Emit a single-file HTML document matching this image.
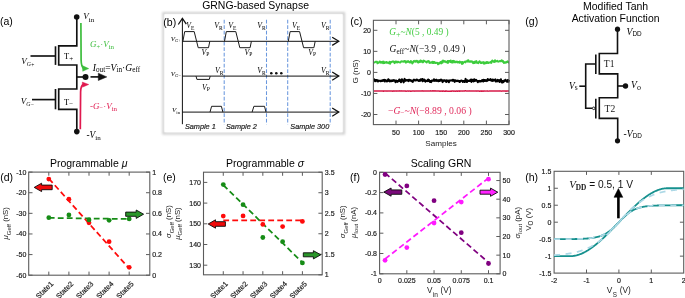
<!DOCTYPE html>
<html><head><meta charset="utf-8"><style>
html,body{margin:0;padding:0;background:#fff;}
svg{display:block;will-change:transform;}
</style></head><body>
<svg width="685" height="298" viewBox="0 0 685 298">
<rect width="685" height="298" fill="#fff"/>
<text x="0.00" y="25.00" font-family="'Liberation Sans', sans-serif" font-size="10.5" text-anchor="start" fill="#000" style="" >(a)</text>
<path d="M76.8,17 V45.8 H58.7 V65 H76.8 V89 H58.7 V109.3 H76.8 V131.6" stroke="#111" stroke-width="1.65" fill="none" />
<path d="M76.8,77 H85.5" stroke="#111" stroke-width="1.65" fill="none" />
<circle cx="76.70" cy="17.00" r="2.8" fill="#111"/>
<circle cx="76.80" cy="131.60" r="2.8" fill="#111"/>
<circle cx="85.50" cy="76.90" r="3" fill="#111"/>
<line x1="55.50" y1="46.30" x2="55.50" y2="64.90" stroke="#111" stroke-width="1.65" />
<line x1="55.50" y1="89.00" x2="55.50" y2="109.30" stroke="#111" stroke-width="1.65" />
<line x1="30.50" y1="56.00" x2="55.50" y2="56.00" stroke="#111" stroke-width="1.65" />
<line x1="32.00" y1="99.60" x2="55.50" y2="99.60" stroke="#111" stroke-width="1.65" />
<line x1="90.50" y1="76.90" x2="99.50" y2="76.90" stroke="#111" stroke-width="1.65" />
<path d="M98.3,73.2 L106.8,76.9 L98.3,80.5 Z" stroke="#111" stroke-width="0.5" fill="#111" />
<path d="M80.9,23 L81.1,60 Q81.3,66.5 83.5,68.3" stroke="#3dbd3d" stroke-width="1.7" fill="none" />
<path d="M82.3,65.5 L88.8,68.6 L82.7,71.3 Z" stroke="#3dbd3d" stroke-width="0.4" fill="#3dbd3d" />
<path d="M80.3,129.3 L80.6,92 Q80.8,86 83.2,84.6" stroke="#e0194f" stroke-width="1.7" fill="none" />
<path d="M82.3,82 L88.8,84.5 L82.4,87.2 Z" stroke="#e0194f" stroke-width="0.4" fill="#e0194f" />
<text x="83.20" y="19.40" font-family="'Liberation Serif', serif" font-size="9" text-anchor="start" fill="#000" style="" ><tspan font-style="italic">V</tspan><tspan font-size="7" dy="2.1">in</tspan></text>
<text x="64.00" y="59.40" font-family="'Liberation Serif', serif" font-size="8.5" text-anchor="start" fill="#000" style="" >T<tspan font-size="7" dy="1.8">+</tspan></text>
<text x="64.00" y="104.80" font-family="'Liberation Serif', serif" font-size="8.5" text-anchor="start" fill="#000" style="" >T<tspan font-size="7" dy="1">−</tspan></text>
<text x="21.20" y="63.80" font-family="'Liberation Serif', serif" font-size="9" text-anchor="start" fill="#000" style="" ><tspan font-style="italic">V</tspan><tspan font-size="5.8" dy="2.1" font-style="italic">G</tspan><tspan font-size="5.5" dy="0.9" dx="0.3">+</tspan></text>
<text x="20.80" y="103.60" font-family="'Liberation Serif', serif" font-size="9" text-anchor="start" fill="#000" style="" ><tspan font-style="italic">V</tspan><tspan font-size="5.8" dy="2.1" font-style="italic">G</tspan><tspan font-size="5.5" dy="0.6" dx="0.3">−</tspan></text>
<text x="90.00" y="47.30" font-family="'Liberation Serif', serif" font-size="9" text-anchor="start" fill="#3dbd3d" style="" ><tspan font-style="italic">G</tspan><tspan font-size="6.5" dy="1.5">+</tspan><tspan dy="-1.5">·</tspan><tspan font-style="italic">V</tspan><tspan font-size="7" dy="1.8">in</tspan></text>
<text x="92.80" y="70.60" font-family="'Liberation Serif', serif" font-size="9.6" text-anchor="start" fill="#000" style="" ><tspan font-style="italic">I</tspan><tspan font-size="7.2" dy="1.8">out</tspan><tspan dy="-1.8">=</tspan><tspan font-style="italic">V</tspan><tspan font-size="7.2" dy="1.8">in</tspan><tspan dy="-1.8">·</tspan><tspan font-style="italic">G</tspan><tspan font-size="7.2" dy="1.8">eff</tspan></text>
<text x="90.00" y="108.80" font-family="'Liberation Serif', serif" font-size="9" text-anchor="start" fill="#e0194f" style="" >-<tspan font-style="italic">G</tspan><tspan font-size="6.5" dy="1">−</tspan><tspan dy="-1">·</tspan><tspan font-style="italic">V</tspan><tspan font-size="7" dy="1.8">in</tspan></text>
<text x="86.50" y="137.60" font-family="'Liberation Serif', serif" font-size="9.3" text-anchor="start" fill="#000" style="" >-<tspan font-style="italic">V</tspan><tspan font-size="7" dy="1.9">in</tspan></text>
<defs><filter id="bl" x="-5%" y="-5%" width="110%" height="110%"><feGaussianBlur stdDeviation="0.8"/></filter></defs>
<rect x="163.4" y="13.2" width="180.6" height="120.3" fill="none" stroke="#cdcdcd" stroke-width="2.2" filter="url(#bl)"/>
<rect x="164.4" y="14.2" width="178.2" height="118" fill="#fff"/>
<text x="163.30" y="25.50" font-family="'Liberation Sans', sans-serif" font-size="10.5" text-anchor="start" fill="#000" style="" >(b)</text>
<text x="202.20" y="9.10" font-family="'Liberation Sans', sans-serif" font-size="10.45" text-anchor="start" fill="#000" style="" >GRNG-based Synapse</text>
<line x1="224.20" y1="19.80" x2="224.20" y2="124.50" stroke="#6b98de" stroke-width="1.05" stroke-dasharray="3.6,1.9"/>
<line x1="266.50" y1="19.80" x2="266.50" y2="124.50" stroke="#6b98de" stroke-width="1.05" stroke-dasharray="3.6,1.9"/>
<line x1="287.70" y1="19.80" x2="287.70" y2="124.50" stroke="#6b98de" stroke-width="1.05" stroke-dasharray="3.6,1.9"/>
<line x1="330.20" y1="19.80" x2="330.20" y2="124.50" stroke="#6b98de" stroke-width="1.05" stroke-dasharray="3.6,1.9"/>
<line x1="182.40" y1="18.50" x2="182.40" y2="124.20" stroke="#111111" stroke-width="1.0" />
<path d="M178.3,24.5 L182.4,18.3 L186.3,24.2" stroke="#111111" stroke-width="1.25" fill="none" />
<line x1="182.40" y1="41.30" x2="338.50" y2="41.30" stroke="#111111" stroke-width="1.0" />
<path d="M332.2,37.199999999999996 L338.8,41.3 L332.2,45.4" stroke="#111111" stroke-width="1.25" fill="none" />
<line x1="182.40" y1="76.10" x2="338.50" y2="76.10" stroke="#111111" stroke-width="1.0" />
<path d="M332.2,72.0 L338.8,76.1 L332.2,80.19999999999999" stroke="#111111" stroke-width="1.25" fill="none" />
<line x1="182.40" y1="112.10" x2="338.50" y2="112.10" stroke="#111111" stroke-width="1.0" />
<path d="M332.2,108.0 L338.8,112.1 L332.2,116.19999999999999" stroke="#111111" stroke-width="1.25" fill="none" />
<path d="M182.9,41.3 L184.70000000000002,31.6 H194.20000000000002 L198.20000000000002,47.7 H208.5 L209.8,41.3" stroke="#1a1a1a" stroke-width="1.0" fill="none" />
<path d="M224.5,41.3 L226.3,31.6 H235.8 L239.8,47.7 H250.1 L251.4,41.3" stroke="#1a1a1a" stroke-width="1.0" fill="none" />
<path d="M288.3,41.3 L290.1,31.6 H299.6 L303.6,47.7 H313.90000000000003 L315.2,41.3" stroke="#1a1a1a" stroke-width="1.0" fill="none" />
<path d="M196,76.1 L196.9,79.4 H209.3 L210.2,76.1" stroke="#1a1a1a" stroke-width="1.0" fill="none" />
<path d="M210,112.1 L211.6,106.3 H221.4 L222.9,112.1" stroke="#1a1a1a" stroke-width="1.0" fill="none" />
<path d="M252.1,112.1 L253.9,106.3 H264.5 L266,112.1" stroke="#1a1a1a" stroke-width="1.0" fill="none" />
<text x="186.20" y="28.20" font-family="'Liberation Serif', serif" font-size="7.8" text-anchor="start" fill="#000" style="" ><tspan font-style="italic">V</tspan><tspan font-size="5.6" dy="1.6">E</tspan></text>
<text x="228.20" y="28.20" font-family="'Liberation Serif', serif" font-size="7.8" text-anchor="start" fill="#000" style="" ><tspan font-style="italic">V</tspan><tspan font-size="5.6" dy="1.6">E</tspan></text>
<text x="292.00" y="28.20" font-family="'Liberation Serif', serif" font-size="7.8" text-anchor="start" fill="#000" style="" ><tspan font-style="italic">V</tspan><tspan font-size="5.6" dy="1.6">E</tspan></text>
<text x="201.50" y="54.80" font-family="'Liberation Serif', serif" font-size="7.8" text-anchor="start" fill="#000" style="" ><tspan font-style="italic">V</tspan><tspan font-size="5.6" dy="1.6">P</tspan></text>
<text x="244.50" y="54.80" font-family="'Liberation Serif', serif" font-size="7.8" text-anchor="start" fill="#000" style="" ><tspan font-style="italic">V</tspan><tspan font-size="5.6" dy="1.6">P</tspan></text>
<text x="308.30" y="54.80" font-family="'Liberation Serif', serif" font-size="7.8" text-anchor="start" fill="#000" style="" ><tspan font-style="italic">V</tspan><tspan font-size="5.6" dy="1.6">P</tspan></text>
<text x="214.20" y="28.20" font-family="'Liberation Serif', serif" font-size="7.8" text-anchor="start" fill="#000" style="" ><tspan font-style="italic">V</tspan><tspan font-size="5.6" dy="1.6">R</tspan></text>
<text x="257.30" y="28.20" font-family="'Liberation Serif', serif" font-size="7.8" text-anchor="start" fill="#000" style="" ><tspan font-style="italic">V</tspan><tspan font-size="5.6" dy="1.6">R</tspan></text>
<text x="321.10" y="28.20" font-family="'Liberation Serif', serif" font-size="7.8" text-anchor="start" fill="#000" style="" ><tspan font-style="italic">V</tspan><tspan font-size="5.6" dy="1.6">R</tspan></text>
<text x="214.90" y="73.20" font-family="'Liberation Serif', serif" font-size="7.8" text-anchor="start" fill="#000" style="" ><tspan font-style="italic">V</tspan><tspan font-size="5.6" dy="1.6">R</tspan></text>
<text x="257.30" y="73.20" font-family="'Liberation Serif', serif" font-size="7.8" text-anchor="start" fill="#000" style="" ><tspan font-style="italic">V</tspan><tspan font-size="5.6" dy="1.6">R</tspan></text>
<text x="321.10" y="73.20" font-family="'Liberation Serif', serif" font-size="7.8" text-anchor="start" fill="#000" style="" ><tspan font-style="italic">V</tspan><tspan font-size="5.6" dy="1.6">R</tspan></text>
<text x="202.10" y="89.60" font-family="'Liberation Serif', serif" font-size="7.8" text-anchor="start" fill="#000" style="" ><tspan font-style="italic">V</tspan><tspan font-size="5.6" dy="1.6">P</tspan></text>
<text x="181.00" y="40.80" font-family="'Liberation Serif', serif" font-size="7" text-anchor="end" fill="#000" style="" ><tspan font-style="italic">V</tspan><tspan font-size="4.6" dy="1" font-style="italic">G</tspan><tspan font-size="4.6" dy="0.6">+</tspan></text>
<text x="181.00" y="75.80" font-family="'Liberation Serif', serif" font-size="7" text-anchor="end" fill="#000" style="" ><tspan font-style="italic">V</tspan><tspan font-size="4.6" dy="1" font-style="italic">G</tspan><tspan font-size="4.6" dy="0">−</tspan></text>
<text x="180.20" y="112.30" font-family="'Liberation Serif', serif" font-size="7" text-anchor="end" fill="#000" style="" ><tspan font-style="italic">V</tspan><tspan font-size="5" dy="1.3">in</tspan></text>
<circle cx="271.30" cy="73.30" r="1.3" fill="#111111"/>
<circle cx="276.30" cy="73.30" r="1.3" fill="#111111"/>
<circle cx="281.30" cy="73.30" r="1.3" fill="#111111"/>
<text x="184.90" y="128.70" font-family="'Liberation Sans', sans-serif" font-size="7.3" text-anchor="start" fill="#222" style="font-style:italic;stroke:#222;stroke-width:0.18px;" >Sample 1</text>
<text x="226.00" y="128.70" font-family="'Liberation Sans', sans-serif" font-size="7.3" text-anchor="start" fill="#222" style="font-style:italic;stroke:#222;stroke-width:0.18px;" >Sample 2</text>
<text x="290.30" y="128.70" font-family="'Liberation Sans', sans-serif" font-size="7.3" text-anchor="start" fill="#222" style="font-style:italic;stroke:#222;stroke-width:0.18px;" >Sample 300</text>
<text x="350.30" y="25.10" font-family="'Liberation Sans', sans-serif" font-size="10.5" text-anchor="start" fill="#000" style="" >(c)</text>
<polyline points="373.85,61.84 374.30,62.35 374.76,62.46 375.21,61.86 375.66,61.77 376.11,61.75 376.56,61.70 377.02,61.80 377.47,63.39 377.92,62.80 378.37,62.46 378.82,62.66 379.28,62.00 379.73,61.35 380.18,61.52 380.63,62.72 381.08,62.41 381.54,62.06 381.99,62.82 382.44,61.66 382.89,62.34 383.34,63.20 383.80,61.58 384.25,62.85 384.70,63.10 385.15,62.52 385.60,62.25 386.06,61.99 386.51,62.01 386.96,62.92 387.41,62.41 387.86,62.86 388.32,62.62 388.77,63.21 389.22,62.19 389.67,61.71 390.12,63.82 390.58,62.72 391.03,61.93 391.48,62.15 391.93,61.93 392.38,61.52 392.84,61.49 393.29,61.39 393.74,61.64 394.19,62.68 394.64,63.17 395.10,61.59 395.55,61.49 396.00,62.35 396.45,61.82 396.90,61.51 397.36,62.51 397.81,62.05 398.26,61.69 398.71,62.19 399.16,62.29 399.62,62.40 400.07,62.53 400.52,62.45 400.97,61.55 401.42,61.23 401.88,61.61 402.33,61.38 402.78,61.62 403.23,61.70 403.68,61.28 404.14,61.09 404.59,61.64 405.04,60.98 405.49,61.40 405.94,62.78 406.40,61.47 406.85,61.45 407.30,61.34 407.75,62.00 408.20,61.09 408.66,61.53 409.11,61.61 409.56,62.41 410.01,62.60 410.46,61.43 410.92,60.97 411.37,62.36 411.82,61.86 412.27,63.52 412.72,62.63 413.18,62.56 413.63,61.04 414.08,61.67 414.53,61.58 414.98,60.85 415.44,61.73 415.89,61.76 416.34,61.18 416.79,60.71 417.24,60.81 417.70,62.40 418.15,62.03 418.60,62.57 419.05,61.11 419.50,61.85 419.96,62.04 420.41,60.42 420.86,60.68 421.31,61.53 421.76,61.06 422.22,62.24 422.67,61.61 423.12,62.17 423.57,60.59 424.02,61.33 424.48,60.87 424.93,61.42 425.38,61.44 425.83,62.01 426.28,61.70 426.74,62.45 427.19,61.63 427.64,61.33 428.09,61.51 428.54,60.90 429.00,61.47 429.45,62.94 429.90,62.06 430.35,62.85 430.80,62.82 431.26,62.71 431.71,62.41 432.16,61.73 432.61,63.03 433.06,61.78 433.52,63.01 433.97,61.97 434.42,61.93 434.87,63.00 435.32,62.96 435.78,62.69 436.23,62.95 436.68,62.82 437.13,62.70 437.58,63.07 438.04,64.36 438.49,63.17 438.94,63.83 439.39,63.41 439.84,62.48 440.30,62.51 440.75,62.01 441.20,63.46 441.65,61.35 442.10,62.41 442.56,62.77 443.01,60.35 443.46,61.54 443.91,61.66 444.36,61.03 444.82,61.81 445.27,61.27 445.72,61.89 446.17,62.20 446.62,61.79 447.08,62.50 447.53,60.89 447.98,62.94 448.43,61.15 448.88,60.93 449.34,60.98 449.79,61.13 450.24,62.09 450.69,60.46 451.14,62.19 451.60,61.68 452.05,62.44 452.50,60.92 452.95,62.55 453.40,60.94 453.86,60.77 454.31,61.32 454.76,62.36 455.21,61.66 455.66,62.18 456.12,61.81 456.57,61.79 457.02,61.54 457.47,62.46 457.92,62.11 458.38,62.04 458.83,62.03 459.28,62.86 459.73,61.47 460.18,62.09 460.64,62.46 461.09,62.25 461.54,62.01 461.99,64.09 462.44,61.85 462.90,63.52 463.35,62.53 463.80,62.56 464.25,61.92 464.70,61.97 465.16,61.42 465.61,62.41 466.06,61.44 466.51,61.32 466.96,61.32 467.42,60.46 467.87,61.81 468.32,60.24 468.77,61.32 469.22,61.65 469.68,61.81 470.13,61.23 470.58,61.73 471.03,61.31 471.48,61.60 471.94,61.33 472.39,62.31 472.84,62.79 473.29,63.20 473.74,61.86 474.20,62.10 474.65,62.92 475.10,61.48 475.55,62.10 476.00,62.72 476.46,61.05 476.91,62.01 477.36,62.88 477.81,62.84 478.26,63.13 478.72,62.16 479.17,61.77 479.62,61.22 480.07,62.43 480.52,62.95 480.98,62.32 481.43,63.11 481.88,62.44 482.33,62.61 482.78,62.84 483.24,62.04 483.69,62.63 484.14,63.81 484.59,62.41 485.04,62.56 485.50,63.37 485.95,62.76 486.40,62.10 486.85,62.90 487.30,62.45 487.76,62.08 488.21,63.13 488.66,62.82 489.11,62.64 489.56,62.56 490.02,62.70 490.47,62.18 490.92,61.73 491.37,62.97 491.82,61.67 492.28,60.40 492.73,60.98 493.18,61.06 493.63,61.64 494.08,62.12 494.54,61.93 494.99,60.17 495.44,61.48 495.89,61.32 496.34,61.41 496.80,61.10 497.25,60.71 497.70,61.42 498.15,61.69 498.60,61.65 499.06,61.48 499.51,61.02 499.96,61.25 500.41,60.99 500.86,61.35 501.32,60.66 501.77,60.18 502.22,61.09 502.67,61.74 503.12,61.06 503.58,62.51 504.03,63.05 504.48,62.16 504.93,62.11 505.38,62.59 505.84,62.79 506.29,61.83 506.74,62.05 507.19,62.02 507.64,61.31 508.10,62.11 508.55,62.53 509.00,62.50" fill="none" stroke="#3ccc3c" stroke-width="1.9" stroke-linejoin="round"/>
<polyline points="373.85,80.37 374.30,79.37 374.76,80.70 375.21,81.25 375.66,80.24 376.11,80.12 376.56,80.22 377.02,80.01 377.47,81.33 377.92,81.40 378.37,80.64 378.82,80.73 379.28,80.74 379.73,80.86 380.18,81.07 380.63,81.24 381.08,80.51 381.54,80.71 381.99,81.01 382.44,80.75 382.89,80.21 383.34,80.64 383.80,80.31 384.25,79.85 384.70,81.50 385.15,80.47 385.60,80.13 386.06,80.78 386.51,80.71 386.96,81.38 387.41,80.66 387.86,80.27 388.32,79.23 388.77,80.99 389.22,80.21 389.67,81.39 390.12,80.53 390.58,81.04 391.03,80.74 391.48,81.04 391.93,80.43 392.38,80.95 392.84,81.01 393.29,80.16 393.74,80.53 394.19,80.26 394.64,80.67 395.10,80.60 395.55,82.13 396.00,80.83 396.45,80.55 396.90,81.41 397.36,81.83 397.81,81.06 398.26,80.95 398.71,81.16 399.16,79.78 399.62,79.51 400.07,80.94 400.52,80.32 400.97,82.30 401.42,80.51 401.88,79.32 402.33,80.62 402.78,80.38 403.23,81.00 403.68,82.36 404.14,80.50 404.59,78.94 405.04,80.36 405.49,80.83 405.94,80.15 406.40,80.49 406.85,80.06 407.30,80.58 407.75,80.48 408.20,79.82 408.66,81.11 409.11,80.18 409.56,79.79 410.01,80.14 410.46,80.70 410.92,80.36 411.37,81.05 411.82,80.76 412.27,80.88 412.72,81.89 413.18,80.38 413.63,80.72 414.08,79.65 414.53,80.21 414.98,80.30 415.44,80.54 415.89,80.20 416.34,79.55 416.79,80.18 417.24,79.72 417.70,79.98 418.15,80.36 418.60,81.04 419.05,80.95 419.50,80.58 419.96,79.90 420.41,80.63 420.86,79.44 421.31,80.16 421.76,80.02 422.22,79.05 422.67,81.21 423.12,79.92 423.57,79.65 424.02,80.75 424.48,79.60 424.93,81.02 425.38,81.57 425.83,80.79 426.28,80.88 426.74,80.89 427.19,81.06 427.64,80.26 428.09,79.50 428.54,80.87 429.00,80.03 429.45,81.22 429.90,81.82 430.35,80.95 430.80,81.09 431.26,82.04 431.71,80.68 432.16,80.45 432.61,80.59 433.06,80.56 433.52,80.69 433.97,79.32 434.42,80.35 434.87,80.96 435.32,79.97 435.78,80.14 436.23,79.71 436.68,80.88 437.13,80.39 437.58,80.83 438.04,80.22 438.49,81.21 438.94,80.36 439.39,80.23 439.84,80.92 440.30,79.83 440.75,80.47 441.20,79.57 441.65,80.28 442.10,80.59 442.56,82.05 443.01,80.42 443.46,81.10 443.91,80.27 444.36,80.18 444.82,80.33 445.27,80.99 445.72,80.73 446.17,82.01 446.62,80.38 447.08,80.45 447.53,80.46 447.98,81.40 448.43,80.60 448.88,82.21 449.34,80.50 449.79,80.84 450.24,80.38 450.69,80.52 451.14,80.55 451.60,80.41 452.05,80.53 452.50,79.88 452.95,80.78 453.40,79.89 453.86,80.72 454.31,80.26 454.76,81.84 455.21,80.23 455.66,80.60 456.12,80.66 456.57,81.06 457.02,81.11 457.47,80.61 457.92,80.81 458.38,81.13 458.83,80.90 459.28,81.09 459.73,82.03 460.18,81.04 460.64,81.13 461.09,80.56 461.54,80.46 461.99,80.85 462.44,81.06 462.90,81.88 463.35,80.95 463.80,81.11 464.25,81.06 464.70,82.03 465.16,81.64 465.61,78.93 466.06,80.86 466.51,80.98 466.96,81.97 467.42,80.33 467.87,80.89 468.32,80.73 468.77,80.73 469.22,80.90 469.68,80.40 470.13,81.00 470.58,80.76 471.03,79.47 471.48,81.87 471.94,79.74 472.39,79.99 472.84,81.00 473.29,80.96 473.74,81.37 474.20,79.24 474.65,80.91 475.10,80.90 475.55,80.30 476.00,79.76 476.46,80.51 476.91,80.82 477.36,80.98 477.81,82.20 478.26,81.59 478.72,81.09 479.17,80.91 479.62,81.50 480.07,81.55 480.52,80.99 480.98,81.35 481.43,81.02 481.88,80.53 482.33,80.06 482.78,81.10 483.24,81.48 483.69,79.71 484.14,80.39 484.59,80.03 485.04,81.01 485.50,80.19 485.95,80.15 486.40,80.62 486.85,81.06 487.30,80.66 487.76,79.12 488.21,79.97 488.66,80.10 489.11,79.71 489.56,79.84 490.02,80.00 490.47,79.15 490.92,80.27 491.37,80.56 491.82,79.90 492.28,79.65 492.73,80.90 493.18,79.69 493.63,80.47 494.08,80.56 494.54,79.73 494.99,79.91 495.44,79.48 495.89,81.48 496.34,80.95 496.80,80.92 497.25,81.34 497.70,79.89 498.15,80.66 498.60,80.63 499.06,80.17 499.51,81.98 499.96,81.13 500.41,80.86 500.86,79.27 501.32,81.36 501.77,82.34 502.22,81.10 502.67,82.43 503.12,81.23 503.58,81.84 504.03,80.71 504.48,80.46 504.93,80.88 505.38,79.81 505.84,80.43 506.29,80.61 506.74,81.49 507.19,81.71 507.64,80.29 508.10,80.04 508.55,81.74 509.00,79.86" fill="none" stroke="#000" stroke-width="2.1" stroke-linejoin="round"/>
<polyline points="373.85,91.07 374.30,90.95 374.76,90.96 375.21,91.06 375.66,91.09 376.11,91.05 376.56,90.98 377.02,91.05 377.47,90.95 377.92,90.99 378.37,90.90 378.82,90.98 379.28,91.02 379.73,91.06 380.18,90.95 380.63,90.96 381.08,90.94 381.54,91.06 381.99,91.06 382.44,91.07 382.89,91.02 383.34,91.20 383.80,90.99 384.25,91.03 384.70,90.95 385.15,90.94 385.60,90.88 386.06,91.00 386.51,91.13 386.96,90.97 387.41,90.93 387.86,91.13 388.32,91.07 388.77,91.01 389.22,91.06 389.67,91.04 390.12,90.97 390.58,91.05 391.03,90.94 391.48,90.96 391.93,91.10 392.38,91.17 392.84,91.03 393.29,90.94 393.74,91.16 394.19,90.98 394.64,91.13 395.10,90.97 395.55,91.05 396.00,90.95 396.45,91.15 396.90,90.98 397.36,90.95 397.81,91.04 398.26,91.00 398.71,91.02 399.16,90.85 399.62,90.91 400.07,90.93 400.52,91.00 400.97,90.83 401.42,90.90 401.88,90.93 402.33,90.91 402.78,91.07 403.23,91.07 403.68,90.92 404.14,90.97 404.59,91.05 405.04,91.10 405.49,91.04 405.94,91.21 406.40,91.16 406.85,91.12 407.30,91.11 407.75,90.97 408.20,90.99 408.66,91.14 409.11,91.08 409.56,91.03 410.01,91.12 410.46,91.24 410.92,90.98 411.37,91.13 411.82,91.11 412.27,91.07 412.72,90.96 413.18,91.06 413.63,90.95 414.08,91.07 414.53,91.08 414.98,91.13 415.44,91.01 415.89,90.98 416.34,91.04 416.79,90.92 417.24,91.04 417.70,90.99 418.15,91.03 418.60,91.01 419.05,91.03 419.50,90.95 419.96,91.06 420.41,90.90 420.86,91.01 421.31,90.92 421.76,91.09 422.22,91.01 422.67,90.84 423.12,90.96 423.57,91.14 424.02,91.03 424.48,91.06 424.93,91.10 425.38,91.07 425.83,91.00 426.28,91.03 426.74,91.01 427.19,90.97 427.64,90.95 428.09,91.01 428.54,91.12 429.00,91.08 429.45,90.94 429.90,91.02 430.35,90.83 430.80,90.96 431.26,90.89 431.71,90.97 432.16,90.90 432.61,90.81 433.06,90.91 433.52,90.99 433.97,90.78 434.42,91.03 434.87,91.11 435.32,91.11 435.78,90.87 436.23,91.04 436.68,91.00 437.13,91.09 437.58,91.03 438.04,91.07 438.49,91.07 438.94,91.10 439.39,91.17 439.84,91.08 440.30,91.09 440.75,91.24 441.20,91.08 441.65,91.12 442.10,91.20 442.56,91.07 443.01,91.25 443.46,90.95 443.91,91.15 444.36,91.14 444.82,91.22 445.27,91.02 445.72,91.08 446.17,91.19 446.62,91.08 447.08,91.12 447.53,91.19 447.98,91.18 448.43,91.13 448.88,91.19 449.34,91.29 449.79,91.13 450.24,91.09 450.69,91.28 451.14,91.11 451.60,91.16 452.05,91.06 452.50,91.06 452.95,91.07 453.40,91.15 453.86,91.07 454.31,91.11 454.76,91.14 455.21,91.10 455.66,91.13 456.12,91.10 456.57,91.04 457.02,91.20 457.47,91.11 457.92,91.15 458.38,91.07 458.83,90.99 459.28,91.00 459.73,91.22 460.18,91.03 460.64,91.04 461.09,91.12 461.54,91.05 461.99,90.98 462.44,91.13 462.90,91.02 463.35,91.01 463.80,91.07 464.25,91.02 464.70,90.99 465.16,90.83 465.61,90.85 466.06,90.92 466.51,91.00 466.96,91.00 467.42,90.89 467.87,91.08 468.32,90.98 468.77,91.07 469.22,91.00 469.68,90.86 470.13,91.05 470.58,91.00 471.03,91.03 471.48,90.92 471.94,90.88 472.39,91.01 472.84,90.97 473.29,91.03 473.74,90.94 474.20,90.98 474.65,91.12 475.10,91.02 475.55,91.09 476.00,91.09 476.46,90.94 476.91,91.15 477.36,90.95 477.81,91.01 478.26,91.05 478.72,90.99 479.17,91.01 479.62,91.20 480.07,91.15 480.52,91.07 480.98,91.05 481.43,91.20 481.88,90.99 482.33,91.14 482.78,91.05 483.24,91.10 483.69,91.17 484.14,91.01 484.59,91.11 485.04,90.94 485.50,91.06 485.95,91.13 486.40,91.06 486.85,90.95 487.30,91.13 487.76,90.96 488.21,91.07 488.66,91.13 489.11,91.10 489.56,91.05 490.02,91.02 490.47,90.94 490.92,90.99 491.37,91.03 491.82,91.05 492.28,91.04 492.73,90.96 493.18,91.05 493.63,91.07 494.08,91.04 494.54,90.92 494.99,91.02 495.44,91.00 495.89,91.05 496.34,90.99 496.80,91.10 497.25,90.92 497.70,90.91 498.15,90.94 498.60,91.05 499.06,91.01 499.51,91.06 499.96,91.10 500.41,90.90 500.86,90.93 501.32,91.19 501.77,91.13 502.22,91.06 502.67,91.05 503.12,90.98 503.58,90.94 504.03,91.05 504.48,90.99 504.93,91.07 505.38,91.18 505.84,90.99 506.29,91.17 506.74,91.07 507.19,91.11 507.64,90.99 508.10,91.00 508.55,91.04 509.00,91.00" fill="none" stroke="#d61a48" stroke-width="1.5" stroke-linejoin="round"/>
<rect x="373.4" y="20.3" width="135.60000000000002" height="104.3" fill="none" stroke="#5c5c5c" stroke-width="1.1"/>
<line x1="373.40" y1="30.30" x2="377.40" y2="30.30" stroke="#5c5c5c" stroke-width="1" />
<line x1="509.00" y1="30.30" x2="505.00" y2="30.30" stroke="#5c5c5c" stroke-width="1" />
<text x="371.00" y="32.80" font-family="'Liberation Sans', sans-serif" font-size="7" text-anchor="end" fill="#1c1c1c" style="stroke:#1c1c1c;stroke-width:0.18px;" >20</text>
<line x1="373.40" y1="51.35" x2="377.40" y2="51.35" stroke="#5c5c5c" stroke-width="1" />
<line x1="509.00" y1="51.35" x2="505.00" y2="51.35" stroke="#5c5c5c" stroke-width="1" />
<text x="371.00" y="53.85" font-family="'Liberation Sans', sans-serif" font-size="7" text-anchor="end" fill="#1c1c1c" style="stroke:#1c1c1c;stroke-width:0.18px;" >10</text>
<line x1="373.40" y1="72.40" x2="377.40" y2="72.40" stroke="#5c5c5c" stroke-width="1" />
<line x1="509.00" y1="72.40" x2="505.00" y2="72.40" stroke="#5c5c5c" stroke-width="1" />
<text x="371.00" y="74.90" font-family="'Liberation Sans', sans-serif" font-size="7" text-anchor="end" fill="#1c1c1c" style="stroke:#1c1c1c;stroke-width:0.18px;" >0</text>
<line x1="373.40" y1="93.45" x2="377.40" y2="93.45" stroke="#5c5c5c" stroke-width="1" />
<line x1="509.00" y1="93.45" x2="505.00" y2="93.45" stroke="#5c5c5c" stroke-width="1" />
<text x="371.00" y="95.95" font-family="'Liberation Sans', sans-serif" font-size="7" text-anchor="end" fill="#1c1c1c" style="stroke:#1c1c1c;stroke-width:0.18px;" >-10</text>
<line x1="373.40" y1="114.50" x2="377.40" y2="114.50" stroke="#5c5c5c" stroke-width="1" />
<line x1="509.00" y1="114.50" x2="505.00" y2="114.50" stroke="#5c5c5c" stroke-width="1" />
<text x="371.00" y="117.00" font-family="'Liberation Sans', sans-serif" font-size="7" text-anchor="end" fill="#1c1c1c" style="stroke:#1c1c1c;stroke-width:0.18px;" >-20</text>
<line x1="396.00" y1="124.60" x2="396.00" y2="120.60" stroke="#5c5c5c" stroke-width="1" />
<line x1="396.00" y1="20.30" x2="396.00" y2="24.30" stroke="#5c5c5c" stroke-width="1" />
<text x="396.00" y="134.80" font-family="'Liberation Sans', sans-serif" font-size="7" text-anchor="middle" fill="#1c1c1c" style="stroke:#1c1c1c;stroke-width:0.18px;" >50</text>
<line x1="418.60" y1="124.60" x2="418.60" y2="120.60" stroke="#5c5c5c" stroke-width="1" />
<line x1="418.60" y1="20.30" x2="418.60" y2="24.30" stroke="#5c5c5c" stroke-width="1" />
<text x="418.60" y="134.80" font-family="'Liberation Sans', sans-serif" font-size="7" text-anchor="middle" fill="#1c1c1c" style="stroke:#1c1c1c;stroke-width:0.18px;" >100</text>
<line x1="441.20" y1="124.60" x2="441.20" y2="120.60" stroke="#5c5c5c" stroke-width="1" />
<line x1="441.20" y1="20.30" x2="441.20" y2="24.30" stroke="#5c5c5c" stroke-width="1" />
<text x="441.20" y="134.80" font-family="'Liberation Sans', sans-serif" font-size="7" text-anchor="middle" fill="#1c1c1c" style="stroke:#1c1c1c;stroke-width:0.18px;" >150</text>
<line x1="463.80" y1="124.60" x2="463.80" y2="120.60" stroke="#5c5c5c" stroke-width="1" />
<line x1="463.80" y1="20.30" x2="463.80" y2="24.30" stroke="#5c5c5c" stroke-width="1" />
<text x="463.80" y="134.80" font-family="'Liberation Sans', sans-serif" font-size="7" text-anchor="middle" fill="#1c1c1c" style="stroke:#1c1c1c;stroke-width:0.18px;" >200</text>
<line x1="486.40" y1="124.60" x2="486.40" y2="120.60" stroke="#5c5c5c" stroke-width="1" />
<line x1="486.40" y1="20.30" x2="486.40" y2="24.30" stroke="#5c5c5c" stroke-width="1" />
<text x="486.40" y="134.80" font-family="'Liberation Sans', sans-serif" font-size="7" text-anchor="middle" fill="#1c1c1c" style="stroke:#1c1c1c;stroke-width:0.18px;" >250</text>
<line x1="509.00" y1="124.60" x2="509.00" y2="120.60" stroke="#5c5c5c" stroke-width="1" />
<line x1="509.00" y1="20.30" x2="509.00" y2="24.30" stroke="#5c5c5c" stroke-width="1" />
<text x="509.00" y="134.80" font-family="'Liberation Sans', sans-serif" font-size="7" text-anchor="middle" fill="#1c1c1c" style="stroke:#1c1c1c;stroke-width:0.18px;" >300</text>
<text x="441.00" y="145.50" font-family="'Liberation Sans', sans-serif" font-size="8.1" text-anchor="middle" fill="#1c1c1c" style="" >Samples</text>
<text x="0.00" y="0.00" font-family="'Liberation Sans', sans-serif" font-size="8.1" text-anchor="middle" fill="#1c1c1c" style="" transform="translate(357.8,71.5) rotate(-90)">G (nS)</text>
<text x="389.20" y="35.00" font-family="'Liberation Serif', serif" font-size="9.4" text-anchor="start" fill="#44cc44" style="" ><tspan font-style="italic">G</tspan><tspan font-size="8" dy="2">+</tspan><tspan dy="-2">~</tspan><tspan font-style="italic">N</tspan>(5 , 0.49 )</text>
<text x="389.50" y="52.40" font-family="'Liberation Serif', serif" font-size="9.5" text-anchor="start" fill="#111" style="" ><tspan font-style="italic">G</tspan><tspan font-size="7.2" dy="1.8">eff</tspan><tspan dy="-1.8">~</tspan><tspan font-style="italic">N</tspan>(−3.9 , 0.49 )</text>
<text x="388.00" y="113.90" font-family="'Liberation Serif', serif" font-size="9.7" text-anchor="start" fill="#e0285a" style="" >−<tspan font-style="italic">G</tspan><tspan font-size="7" dy="1.2">−</tspan><tspan dy="-1.2">~</tspan><tspan font-style="italic">N</tspan>(−8.89 , 0.06 )</text>
<text x="525.30" y="25.00" font-family="'Liberation Sans', sans-serif" font-size="10.5" text-anchor="start" fill="#000" style="" >(g)</text>
<text x="615.60" y="9.90" font-family="'Liberation Sans', sans-serif" font-size="10.5" text-anchor="middle" fill="#000" style="" >Modified Tanh</text>
<text x="615.60" y="22.30" font-family="'Liberation Sans', sans-serif" font-size="10.4" text-anchor="middle" fill="#000" style="" >Activation Function</text>
<path d="M617.5,29.2 V53.5 H599.3 V73.9 H617.7 V97.7 H599.3 V118.4 H617.7 V140.8" stroke="#111" stroke-width="1.6" fill="none" />
<circle cx="617.50" cy="29.20" r="2.6" fill="#111"/>
<circle cx="617.50" cy="140.80" r="2.6" fill="#111"/>
<line x1="595.80" y1="54.50" x2="595.80" y2="73.90" stroke="#111" stroke-width="1.6" />
<line x1="595.80" y1="98.80" x2="595.80" y2="118.40" stroke="#111" stroke-width="1.6" />
<path d="M595.8,64 H585.7 V108.3 H592.3" stroke="#111" stroke-width="1.6" fill="none" />
<circle cx="593.7" cy="108.3" r="1.3" fill="#fff" stroke="#111" stroke-width="0.9"/>
<line x1="579.30" y1="86.20" x2="585.70" y2="86.20" stroke="#111" stroke-width="1.6" />
<line x1="617.70" y1="86.00" x2="625.50" y2="86.00" stroke="#111" stroke-width="1.6" />
<circle cx="625.50" cy="86.00" r="2.7" fill="#111"/>
<text x="626.60" y="34.80" font-family="'Liberation Serif', serif" font-size="9.6" text-anchor="start" fill="#000" style="" ><tspan font-style="italic">V</tspan><tspan font-size="6.4" dy="1.5" font-family="Liberation Sans">DD</tspan></text>
<text x="603.80" y="66.80" font-family="'Liberation Serif', serif" font-size="9.6" text-anchor="start" fill="#222" style="" >T1</text>
<text x="604.60" y="112.00" font-family="'Liberation Serif', serif" font-size="9.6" text-anchor="start" fill="#222" style="" >T2</text>
<text x="569.00" y="88.60" font-family="'Liberation Serif', serif" font-size="9.3" text-anchor="start" fill="#000" style="" ><tspan font-style="italic">V</tspan><tspan font-size="7.5" dy="1.6">s</tspan></text>
<text x="631.00" y="88.20" font-family="'Liberation Serif', serif" font-size="9.6" text-anchor="start" fill="#000" style="" ><tspan font-style="italic">V</tspan><tspan font-size="8" dy="1.6">o</tspan></text>
<text x="623.60" y="136.60" font-family="'Liberation Serif', serif" font-size="9.6" text-anchor="start" fill="#000" style="" >-<tspan font-style="italic">V</tspan><tspan font-size="6.4" dy="1.5" font-family="Liberation Sans">DD</tspan></text>
<text x="49.90" y="167.10" font-family="'Liberation Sans', sans-serif" font-size="10.5" text-anchor="start" fill="#000" style="" >Programmable <tspan font-style="italic">μ</tspan></text>
<text x="0.20" y="180.80" font-family="'Liberation Sans', sans-serif" font-size="10.5" text-anchor="start" fill="#000" style="" >(d)</text>
<rect x="28.7" y="172.1" width="121.10" height="103.10" fill="none" stroke="#5c5c5c" stroke-width="1.1"/>
<line x1="28.70" y1="172.10" x2="32.50" y2="172.10" stroke="#5c5c5c" stroke-width="1" />
<text x="26.30" y="174.60" font-family="'Liberation Sans', sans-serif" font-size="7" text-anchor="end" fill="#1c1c1c" style="stroke:#1c1c1c;stroke-width:0.18px;" >-10</text>
<line x1="28.70" y1="192.72" x2="32.50" y2="192.72" stroke="#5c5c5c" stroke-width="1" />
<text x="26.30" y="195.22" font-family="'Liberation Sans', sans-serif" font-size="7" text-anchor="end" fill="#1c1c1c" style="stroke:#1c1c1c;stroke-width:0.18px;" >-20</text>
<line x1="28.70" y1="213.34" x2="32.50" y2="213.34" stroke="#5c5c5c" stroke-width="1" />
<text x="26.30" y="215.84" font-family="'Liberation Sans', sans-serif" font-size="7" text-anchor="end" fill="#1c1c1c" style="stroke:#1c1c1c;stroke-width:0.18px;" >-30</text>
<line x1="28.70" y1="233.96" x2="32.50" y2="233.96" stroke="#5c5c5c" stroke-width="1" />
<text x="26.30" y="236.46" font-family="'Liberation Sans', sans-serif" font-size="7" text-anchor="end" fill="#1c1c1c" style="stroke:#1c1c1c;stroke-width:0.18px;" >-40</text>
<line x1="28.70" y1="254.58" x2="32.50" y2="254.58" stroke="#5c5c5c" stroke-width="1" />
<text x="26.30" y="257.08" font-family="'Liberation Sans', sans-serif" font-size="7" text-anchor="end" fill="#1c1c1c" style="stroke:#1c1c1c;stroke-width:0.18px;" >-50</text>
<line x1="28.70" y1="275.20" x2="32.50" y2="275.20" stroke="#5c5c5c" stroke-width="1" />
<text x="26.30" y="277.70" font-family="'Liberation Sans', sans-serif" font-size="7" text-anchor="end" fill="#1c1c1c" style="stroke:#1c1c1c;stroke-width:0.18px;" >-60</text>
<line x1="149.80" y1="172.10" x2="146.00" y2="172.10" stroke="#5c5c5c" stroke-width="1" />
<text x="152.20" y="174.60" font-family="'Liberation Sans', sans-serif" font-size="7" text-anchor="start" fill="#1c1c1c" style="stroke:#1c1c1c;stroke-width:0.18px;" >1</text>
<line x1="149.80" y1="192.72" x2="146.00" y2="192.72" stroke="#5c5c5c" stroke-width="1" />
<text x="152.20" y="195.22" font-family="'Liberation Sans', sans-serif" font-size="7" text-anchor="start" fill="#1c1c1c" style="stroke:#1c1c1c;stroke-width:0.18px;" >0.8</text>
<line x1="149.80" y1="213.34" x2="146.00" y2="213.34" stroke="#5c5c5c" stroke-width="1" />
<text x="152.20" y="215.84" font-family="'Liberation Sans', sans-serif" font-size="7" text-anchor="start" fill="#1c1c1c" style="stroke:#1c1c1c;stroke-width:0.18px;" >0.6</text>
<line x1="149.80" y1="233.96" x2="146.00" y2="233.96" stroke="#5c5c5c" stroke-width="1" />
<text x="152.20" y="236.46" font-family="'Liberation Sans', sans-serif" font-size="7" text-anchor="start" fill="#1c1c1c" style="stroke:#1c1c1c;stroke-width:0.18px;" >0.4</text>
<line x1="149.80" y1="254.58" x2="146.00" y2="254.58" stroke="#5c5c5c" stroke-width="1" />
<text x="152.20" y="257.08" font-family="'Liberation Sans', sans-serif" font-size="7" text-anchor="start" fill="#1c1c1c" style="stroke:#1c1c1c;stroke-width:0.18px;" >0.2</text>
<line x1="149.80" y1="275.20" x2="146.00" y2="275.20" stroke="#5c5c5c" stroke-width="1" />
<text x="152.20" y="277.70" font-family="'Liberation Sans', sans-serif" font-size="7" text-anchor="start" fill="#1c1c1c" style="stroke:#1c1c1c;stroke-width:0.18px;" >0</text>
<line x1="48.80" y1="275.20" x2="48.80" y2="271.60" stroke="#5c5c5c" stroke-width="1" />
<line x1="48.80" y1="172.10" x2="48.80" y2="175.70" stroke="#5c5c5c" stroke-width="1" />
<text x="0.00" y="0.00" font-family="'Liberation Sans', sans-serif" font-size="7.3" text-anchor="end" fill="#1c1c1c" style="stroke:#1c1c1c;stroke-width:0.18px;" transform="translate(53.8,284.3) rotate(-45)">State1</text>
<line x1="68.90" y1="275.20" x2="68.90" y2="271.60" stroke="#5c5c5c" stroke-width="1" />
<line x1="68.90" y1="172.10" x2="68.90" y2="175.70" stroke="#5c5c5c" stroke-width="1" />
<text x="0.00" y="0.00" font-family="'Liberation Sans', sans-serif" font-size="7.3" text-anchor="end" fill="#1c1c1c" style="stroke:#1c1c1c;stroke-width:0.18px;" transform="translate(73.9,284.3) rotate(-45)">State2</text>
<line x1="89.00" y1="275.20" x2="89.00" y2="271.60" stroke="#5c5c5c" stroke-width="1" />
<line x1="89.00" y1="172.10" x2="89.00" y2="175.70" stroke="#5c5c5c" stroke-width="1" />
<text x="0.00" y="0.00" font-family="'Liberation Sans', sans-serif" font-size="7.3" text-anchor="end" fill="#1c1c1c" style="stroke:#1c1c1c;stroke-width:0.18px;" transform="translate(94.0,284.3) rotate(-45)">State3</text>
<line x1="109.10" y1="275.20" x2="109.10" y2="271.60" stroke="#5c5c5c" stroke-width="1" />
<line x1="109.10" y1="172.10" x2="109.10" y2="175.70" stroke="#5c5c5c" stroke-width="1" />
<text x="0.00" y="0.00" font-family="'Liberation Sans', sans-serif" font-size="7.3" text-anchor="end" fill="#1c1c1c" style="stroke:#1c1c1c;stroke-width:0.18px;" transform="translate(114.10000000000001,284.3) rotate(-45)">State4</text>
<line x1="129.20" y1="275.20" x2="129.20" y2="271.60" stroke="#5c5c5c" stroke-width="1" />
<line x1="129.20" y1="172.10" x2="129.20" y2="175.70" stroke="#5c5c5c" stroke-width="1" />
<text x="0.00" y="0.00" font-family="'Liberation Sans', sans-serif" font-size="7.3" text-anchor="end" fill="#1c1c1c" style="stroke:#1c1c1c;stroke-width:0.18px;" transform="translate(134.2,284.3) rotate(-45)">State5</text>
<line x1="48.80" y1="217.90" x2="129.20" y2="219.00" stroke="#168c16" stroke-width="1.75" stroke-dasharray="5.8,3.2"/>
<line x1="48.80" y1="178.50" x2="129.20" y2="268.50" stroke="#ff0a0a" stroke-width="1.75" stroke-dasharray="5.8,3.2"/>
<circle cx="48.80" cy="179.10" r="2.4" fill="#ff0a0a"/>
<circle cx="68.90" cy="199.20" r="2.4" fill="#ff0a0a"/>
<circle cx="89.00" cy="222.80" r="2.4" fill="#ff0a0a"/>
<circle cx="109.10" cy="241.70" r="2.4" fill="#ff0a0a"/>
<circle cx="129.20" cy="267.30" r="2.4" fill="#ff0a0a"/>
<circle cx="48.80" cy="217.70" r="2.4" fill="#168c16"/>
<circle cx="68.90" cy="214.90" r="2.4" fill="#168c16"/>
<circle cx="89.00" cy="219.90" r="2.4" fill="#168c16"/>
<circle cx="109.10" cy="220.30" r="2.4" fill="#168c16"/>
<circle cx="129.20" cy="218.90" r="2.4" fill="#168c16"/>
<path d="M34.2,187.4 L41.6,183.20000000000002 V185.1 H52.2 V189.70000000000002 H41.6 V191.6 Z" stroke="#0a0a0a" stroke-width="0.9" fill="#f00a0a" />
<path d="M143.6,214.2 L136.2,210.0 V212.1 H125.7 V216.29999999999998 H136.2 V218.39999999999998 Z" stroke="#0a0a0a" stroke-width="0.9" fill="#2a962a" />
<text x="0.00" y="0.00" font-family="'Liberation Sans', sans-serif" font-size="7.8" text-anchor="middle" fill="#1c1c1c" style="" transform="translate(8.4,223.3) rotate(-90)"><tspan font-style="italic">μ</tspan><tspan font-size="6" dy="2.3">Geff</tspan><tspan dy="-2.3"> (nS)</tspan></text>
<text x="0.00" y="0.00" font-family="'Liberation Sans', sans-serif" font-size="7.8" text-anchor="middle" fill="#1c1c1c" style="" transform="translate(171.2,221.6) rotate(-90)"><tspan font-style="italic">σ</tspan><tspan font-size="6" dy="2.3">Geff</tspan><tspan dy="-2.3"> (nS)</tspan></text>
<text x="225.90" y="167.00" font-family="'Liberation Sans', sans-serif" font-size="10.5" text-anchor="start" fill="#000" style="" >Programmable <tspan font-style="italic">σ</tspan></text>
<text x="163.00" y="180.80" font-family="'Liberation Sans', sans-serif" font-size="10.5" text-anchor="start" fill="#000" style="" >(e)</text>
<rect x="203.5" y="172.2" width="118.70" height="102.60" fill="none" stroke="#5c5c5c" stroke-width="1.1"/>
<line x1="203.50" y1="182.40" x2="207.30" y2="182.40" stroke="#5c5c5c" stroke-width="1" />
<text x="201.00" y="184.90" font-family="'Liberation Sans', sans-serif" font-size="7" text-anchor="end" fill="#1c1c1c" style="stroke:#1c1c1c;stroke-width:0.18px;" >170</text>
<line x1="203.50" y1="203.10" x2="207.30" y2="203.10" stroke="#5c5c5c" stroke-width="1" />
<text x="201.00" y="205.60" font-family="'Liberation Sans', sans-serif" font-size="7" text-anchor="end" fill="#1c1c1c" style="stroke:#1c1c1c;stroke-width:0.18px;" >160</text>
<line x1="203.50" y1="223.80" x2="207.30" y2="223.80" stroke="#5c5c5c" stroke-width="1" />
<text x="201.00" y="226.30" font-family="'Liberation Sans', sans-serif" font-size="7" text-anchor="end" fill="#1c1c1c" style="stroke:#1c1c1c;stroke-width:0.18px;" >150</text>
<line x1="203.50" y1="244.50" x2="207.30" y2="244.50" stroke="#5c5c5c" stroke-width="1" />
<text x="201.00" y="247.00" font-family="'Liberation Sans', sans-serif" font-size="7" text-anchor="end" fill="#1c1c1c" style="stroke:#1c1c1c;stroke-width:0.18px;" >140</text>
<line x1="203.50" y1="265.20" x2="207.30" y2="265.20" stroke="#5c5c5c" stroke-width="1" />
<text x="201.00" y="267.70" font-family="'Liberation Sans', sans-serif" font-size="7" text-anchor="end" fill="#1c1c1c" style="stroke:#1c1c1c;stroke-width:0.18px;" >130</text>
<line x1="322.20" y1="172.20" x2="318.40" y2="172.20" stroke="#5c5c5c" stroke-width="1" />
<text x="324.80" y="174.70" font-family="'Liberation Sans', sans-serif" font-size="7" text-anchor="start" fill="#1c1c1c" style="stroke:#1c1c1c;stroke-width:0.18px;" >3.5</text>
<line x1="322.20" y1="192.72" x2="318.40" y2="192.72" stroke="#5c5c5c" stroke-width="1" />
<text x="324.80" y="195.22" font-family="'Liberation Sans', sans-serif" font-size="7" text-anchor="start" fill="#1c1c1c" style="stroke:#1c1c1c;stroke-width:0.18px;" >3</text>
<line x1="322.20" y1="213.24" x2="318.40" y2="213.24" stroke="#5c5c5c" stroke-width="1" />
<text x="324.80" y="215.74" font-family="'Liberation Sans', sans-serif" font-size="7" text-anchor="start" fill="#1c1c1c" style="stroke:#1c1c1c;stroke-width:0.18px;" >2.5</text>
<line x1="322.20" y1="233.76" x2="318.40" y2="233.76" stroke="#5c5c5c" stroke-width="1" />
<text x="324.80" y="236.26" font-family="'Liberation Sans', sans-serif" font-size="7" text-anchor="start" fill="#1c1c1c" style="stroke:#1c1c1c;stroke-width:0.18px;" >2</text>
<line x1="322.20" y1="254.28" x2="318.40" y2="254.28" stroke="#5c5c5c" stroke-width="1" />
<text x="324.80" y="256.78" font-family="'Liberation Sans', sans-serif" font-size="7" text-anchor="start" fill="#1c1c1c" style="stroke:#1c1c1c;stroke-width:0.18px;" >1.5</text>
<line x1="322.20" y1="274.80" x2="318.40" y2="274.80" stroke="#5c5c5c" stroke-width="1" />
<text x="324.80" y="277.30" font-family="'Liberation Sans', sans-serif" font-size="7" text-anchor="start" fill="#1c1c1c" style="stroke:#1c1c1c;stroke-width:0.18px;" >1</text>
<line x1="223.28" y1="274.80" x2="223.28" y2="271.20" stroke="#5c5c5c" stroke-width="1" />
<line x1="223.28" y1="172.20" x2="223.28" y2="175.80" stroke="#5c5c5c" stroke-width="1" />
<text x="0.00" y="0.00" font-family="'Liberation Sans', sans-serif" font-size="7.3" text-anchor="end" fill="#1c1c1c" style="stroke:#1c1c1c;stroke-width:0.18px;" transform="translate(228.28,284.3) rotate(-45)">State1</text>
<line x1="243.06" y1="274.80" x2="243.06" y2="271.20" stroke="#5c5c5c" stroke-width="1" />
<line x1="243.06" y1="172.20" x2="243.06" y2="175.80" stroke="#5c5c5c" stroke-width="1" />
<text x="0.00" y="0.00" font-family="'Liberation Sans', sans-serif" font-size="7.3" text-anchor="end" fill="#1c1c1c" style="stroke:#1c1c1c;stroke-width:0.18px;" transform="translate(248.06,284.3) rotate(-45)">State2</text>
<line x1="262.84" y1="274.80" x2="262.84" y2="271.20" stroke="#5c5c5c" stroke-width="1" />
<line x1="262.84" y1="172.20" x2="262.84" y2="175.80" stroke="#5c5c5c" stroke-width="1" />
<text x="0.00" y="0.00" font-family="'Liberation Sans', sans-serif" font-size="7.3" text-anchor="end" fill="#1c1c1c" style="stroke:#1c1c1c;stroke-width:0.18px;" transform="translate(267.84000000000003,284.3) rotate(-45)">State3</text>
<line x1="282.62" y1="274.80" x2="282.62" y2="271.20" stroke="#5c5c5c" stroke-width="1" />
<line x1="282.62" y1="172.20" x2="282.62" y2="175.80" stroke="#5c5c5c" stroke-width="1" />
<text x="0.00" y="0.00" font-family="'Liberation Sans', sans-serif" font-size="7.3" text-anchor="end" fill="#1c1c1c" style="stroke:#1c1c1c;stroke-width:0.18px;" transform="translate(287.62,284.3) rotate(-45)">State4</text>
<line x1="302.40" y1="274.80" x2="302.40" y2="271.20" stroke="#5c5c5c" stroke-width="1" />
<line x1="302.40" y1="172.20" x2="302.40" y2="175.80" stroke="#5c5c5c" stroke-width="1" />
<text x="0.00" y="0.00" font-family="'Liberation Sans', sans-serif" font-size="7.3" text-anchor="end" fill="#1c1c1c" style="stroke:#1c1c1c;stroke-width:0.18px;" transform="translate(307.4,284.3) rotate(-45)">State5</text>
<line x1="223.28" y1="220.30" x2="302.40" y2="220.30" stroke="#ff0a0a" stroke-width="1.75" stroke-dasharray="5.8,3.2"/>
<line x1="223.28" y1="185.00" x2="302.40" y2="262.50" stroke="#168c16" stroke-width="1.75" stroke-dasharray="5.8,3.2"/>
<circle cx="223.28" cy="216.10" r="2.4" fill="#ff0a0a"/>
<circle cx="243.06" cy="215.90" r="2.4" fill="#ff0a0a"/>
<circle cx="262.84" cy="224.40" r="2.4" fill="#ff0a0a"/>
<circle cx="282.62" cy="226.60" r="2.4" fill="#ff0a0a"/>
<circle cx="302.40" cy="221.40" r="2.4" fill="#ff0a0a"/>
<circle cx="223.28" cy="184.60" r="2.4" fill="#168c16"/>
<circle cx="243.06" cy="204.70" r="2.4" fill="#168c16"/>
<circle cx="262.84" cy="237.50" r="2.4" fill="#168c16"/>
<circle cx="282.62" cy="241.70" r="2.4" fill="#168c16"/>
<circle cx="302.40" cy="262.90" r="2.4" fill="#168c16"/>
<path d="M208.2,224 L215.5,219.8 V221.7 H225.4 V226.3 H215.5 V228.2 Z" stroke="#0a0a0a" stroke-width="0.9" fill="#f00a0a" />
<path d="M320.8,254.8 L313.4,250.70000000000002 V252.8 H303.3 V256.8 H313.4 V258.90000000000003 Z" stroke="#0a0a0a" stroke-width="0.9" fill="#2a962a" />
<text x="0.00" y="0.00" font-family="'Liberation Sans', sans-serif" font-size="7.8" text-anchor="middle" fill="#1c1c1c" style="" transform="translate(179.8,223.5) rotate(-90)"><tspan font-style="italic">μ</tspan><tspan font-size="6" dy="2.3">Geff</tspan><tspan dy="-2.3"> (nS)</tspan></text>
<text x="0.00" y="0.00" font-family="'Liberation Sans', sans-serif" font-size="7.8" text-anchor="middle" fill="#1c1c1c" style="" transform="translate(345.3,221.8) rotate(-90)"><tspan font-style="italic">σ</tspan><tspan font-size="6" dy="2.3">Geff</tspan><tspan dy="-2.3"> (nS)</tspan></text>
<text x="410.70" y="167.00" font-family="'Liberation Sans', sans-serif" font-size="10.5" text-anchor="start" fill="#000" style="" >Scaling GRN</text>
<text x="350.00" y="180.80" font-family="'Liberation Sans', sans-serif" font-size="10.5" text-anchor="start" fill="#000" style="" >(f)</text>
<rect x="379.6" y="172.3" width="120.50" height="101.50" fill="none" stroke="#5c5c5c" stroke-width="1.1"/>
<line x1="379.60" y1="172.30" x2="383.40" y2="172.30" stroke="#5c5c5c" stroke-width="1" />
<text x="377.00" y="174.80" font-family="'Liberation Sans', sans-serif" font-size="7" text-anchor="end" fill="#1c1c1c" style="stroke:#1c1c1c;stroke-width:0.18px;" >0</text>
<line x1="379.60" y1="192.60" x2="383.40" y2="192.60" stroke="#5c5c5c" stroke-width="1" />
<text x="377.00" y="195.10" font-family="'Liberation Sans', sans-serif" font-size="7" text-anchor="end" fill="#1c1c1c" style="stroke:#1c1c1c;stroke-width:0.18px;" >-0.2</text>
<line x1="379.60" y1="212.90" x2="383.40" y2="212.90" stroke="#5c5c5c" stroke-width="1" />
<text x="377.00" y="215.40" font-family="'Liberation Sans', sans-serif" font-size="7" text-anchor="end" fill="#1c1c1c" style="stroke:#1c1c1c;stroke-width:0.18px;" >-0.4</text>
<line x1="379.60" y1="233.20" x2="383.40" y2="233.20" stroke="#5c5c5c" stroke-width="1" />
<text x="377.00" y="235.70" font-family="'Liberation Sans', sans-serif" font-size="7" text-anchor="end" fill="#1c1c1c" style="stroke:#1c1c1c;stroke-width:0.18px;" >-0.6</text>
<line x1="379.60" y1="253.50" x2="383.40" y2="253.50" stroke="#5c5c5c" stroke-width="1" />
<text x="377.00" y="256.00" font-family="'Liberation Sans', sans-serif" font-size="7" text-anchor="end" fill="#1c1c1c" style="stroke:#1c1c1c;stroke-width:0.18px;" >-0.8</text>
<line x1="379.60" y1="273.80" x2="383.40" y2="273.80" stroke="#5c5c5c" stroke-width="1" />
<text x="377.00" y="276.30" font-family="'Liberation Sans', sans-serif" font-size="7" text-anchor="end" fill="#1c1c1c" style="stroke:#1c1c1c;stroke-width:0.18px;" >-1</text>
<line x1="500.10" y1="180.55" x2="496.30" y2="180.55" stroke="#5c5c5c" stroke-width="1" />
<text x="502.50" y="183.05" font-family="'Liberation Sans', sans-serif" font-size="7" text-anchor="start" fill="#1c1c1c" style="stroke:#1c1c1c;stroke-width:0.18px;" >50</text>
<line x1="500.10" y1="199.20" x2="496.30" y2="199.20" stroke="#5c5c5c" stroke-width="1" />
<text x="502.50" y="201.70" font-family="'Liberation Sans', sans-serif" font-size="7" text-anchor="start" fill="#1c1c1c" style="stroke:#1c1c1c;stroke-width:0.18px;" >40</text>
<line x1="500.10" y1="217.85" x2="496.30" y2="217.85" stroke="#5c5c5c" stroke-width="1" />
<text x="502.50" y="220.35" font-family="'Liberation Sans', sans-serif" font-size="7" text-anchor="start" fill="#1c1c1c" style="stroke:#1c1c1c;stroke-width:0.18px;" >30</text>
<line x1="500.10" y1="236.50" x2="496.30" y2="236.50" stroke="#5c5c5c" stroke-width="1" />
<text x="502.50" y="239.00" font-family="'Liberation Sans', sans-serif" font-size="7" text-anchor="start" fill="#1c1c1c" style="stroke:#1c1c1c;stroke-width:0.18px;" >20</text>
<line x1="500.10" y1="255.15" x2="496.30" y2="255.15" stroke="#5c5c5c" stroke-width="1" />
<text x="502.50" y="257.65" font-family="'Liberation Sans', sans-serif" font-size="7" text-anchor="start" fill="#1c1c1c" style="stroke:#1c1c1c;stroke-width:0.18px;" >10</text>
<line x1="500.10" y1="273.80" x2="496.30" y2="273.80" stroke="#5c5c5c" stroke-width="1" />
<text x="502.50" y="276.30" font-family="'Liberation Sans', sans-serif" font-size="7" text-anchor="start" fill="#1c1c1c" style="stroke:#1c1c1c;stroke-width:0.18px;" >0</text>
<text x="379.60" y="283.30" font-family="'Liberation Sans', sans-serif" font-size="7" text-anchor="middle" fill="#1c1c1c" style="stroke:#1c1c1c;stroke-width:0.18px;" >0</text>
<line x1="406.83" y1="273.80" x2="406.83" y2="270.20" stroke="#5c5c5c" stroke-width="1" />
<line x1="406.83" y1="172.30" x2="406.83" y2="175.90" stroke="#5c5c5c" stroke-width="1" />
<text x="406.83" y="283.30" font-family="'Liberation Sans', sans-serif" font-size="7" text-anchor="middle" fill="#1c1c1c" style="stroke:#1c1c1c;stroke-width:0.18px;" >0.025</text>
<line x1="434.05" y1="273.80" x2="434.05" y2="270.20" stroke="#5c5c5c" stroke-width="1" />
<line x1="434.05" y1="172.30" x2="434.05" y2="175.90" stroke="#5c5c5c" stroke-width="1" />
<text x="434.05" y="283.30" font-family="'Liberation Sans', sans-serif" font-size="7" text-anchor="middle" fill="#1c1c1c" style="stroke:#1c1c1c;stroke-width:0.18px;" >0.05</text>
<line x1="461.28" y1="273.80" x2="461.28" y2="270.20" stroke="#5c5c5c" stroke-width="1" />
<line x1="461.28" y1="172.30" x2="461.28" y2="175.90" stroke="#5c5c5c" stroke-width="1" />
<text x="461.28" y="283.30" font-family="'Liberation Sans', sans-serif" font-size="7" text-anchor="middle" fill="#1c1c1c" style="stroke:#1c1c1c;stroke-width:0.18px;" >0.075</text>
<line x1="488.50" y1="273.80" x2="488.50" y2="270.20" stroke="#5c5c5c" stroke-width="1" />
<line x1="488.50" y1="172.30" x2="488.50" y2="175.90" stroke="#5c5c5c" stroke-width="1" />
<text x="488.50" y="283.30" font-family="'Liberation Sans', sans-serif" font-size="7" text-anchor="middle" fill="#1c1c1c" style="stroke:#1c1c1c;stroke-width:0.18px;" >0.1</text>
<line x1="385.05" y1="173.00" x2="488.50" y2="262.50" stroke="#800080" stroke-width="1.75" stroke-dasharray="5.8,3.2"/>
<line x1="385.05" y1="259.00" x2="488.50" y2="178.00" stroke="#ff19ff" stroke-width="1.75" stroke-dasharray="5.8,3.2"/>
<circle cx="385.05" cy="174.50" r="2.4" fill="#800080"/>
<circle cx="406.83" cy="185.90" r="2.4" fill="#800080"/>
<circle cx="434.05" cy="200.70" r="2.4" fill="#800080"/>
<circle cx="461.28" cy="232.70" r="2.4" fill="#800080"/>
<circle cx="488.50" cy="263.50" r="2.4" fill="#800080"/>
<circle cx="385.05" cy="260.30" r="2.4" fill="#ff19ff"/>
<circle cx="406.83" cy="247.60" r="2.4" fill="#ff19ff"/>
<circle cx="434.05" cy="223.00" r="2.4" fill="#ff19ff"/>
<circle cx="461.28" cy="202.10" r="2.4" fill="#ff19ff"/>
<circle cx="488.50" cy="179.20" r="2.4" fill="#ff19ff"/>
<path d="M383.8,192.1 L391.1,188.0 V189.9 H401.8 V194.29999999999998 H391.1 V196.2 Z" stroke="#0a0a0a" stroke-width="0.9" fill="#7a0a7a" />
<path d="M497.8,192.2 L490.5,188.1 V190.2 H480 V194.2 H490.5 V196.29999999999998 Z" stroke="#0a0a0a" stroke-width="0.9" fill="#ff22ff" />
<text x="439.30" y="293.40" font-family="'Liberation Sans', sans-serif" font-size="8.2" text-anchor="middle" fill="#1c1c1c" style="" >V<tspan font-size="6.6" dy="3.4" dx="0.3">in</tspan><tspan dy="-3.4" dx="0.3"> (V)</tspan></text>
<text x="0.00" y="0.00" font-family="'Liberation Sans', sans-serif" font-size="7.8" text-anchor="middle" fill="#1c1c1c" style="" transform="translate(355.8,222.5) rotate(-90)"><tspan font-style="italic">μ</tspan><tspan font-size="6" dy="2.3">Iout</tspan><tspan dy="-2.3"> (nA)</tspan></text>
<text x="0.00" y="0.00" font-family="'Liberation Sans', sans-serif" font-size="7.8" text-anchor="middle" fill="#1c1c1c" style="" transform="translate(519.6,222.8) rotate(-90)"><tspan font-style="italic">σ</tspan><tspan font-size="6" dy="2.3">Iout</tspan><tspan dy="-2.3"> (pA)</tspan></text>
<text x="525.20" y="180.50" font-family="'Liberation Sans', sans-serif" font-size="10.5" text-anchor="start" fill="#000" style="" >(h)</text>
<rect x="554.1" y="171.3" width="129.60" height="101.80" fill="none" stroke="#5c5c5c" stroke-width="1.1"/>
<text x="551.30" y="173.77" font-family="'Liberation Sans', sans-serif" font-size="7" text-anchor="end" fill="#1c1c1c" style="stroke:#1c1c1c;stroke-width:0.18px;" >1.5</text>
<line x1="554.10" y1="188.25" x2="557.90" y2="188.25" stroke="#5c5c5c" stroke-width="1" />
<line x1="683.70" y1="188.25" x2="679.90" y2="188.25" stroke="#5c5c5c" stroke-width="1" />
<text x="551.30" y="190.75" font-family="'Liberation Sans', sans-serif" font-size="7" text-anchor="end" fill="#1c1c1c" style="stroke:#1c1c1c;stroke-width:0.18px;" >1</text>
<line x1="554.10" y1="205.22" x2="557.90" y2="205.22" stroke="#5c5c5c" stroke-width="1" />
<line x1="683.70" y1="205.22" x2="679.90" y2="205.22" stroke="#5c5c5c" stroke-width="1" />
<text x="551.30" y="207.72" font-family="'Liberation Sans', sans-serif" font-size="7" text-anchor="end" fill="#1c1c1c" style="stroke:#1c1c1c;stroke-width:0.18px;" >0.5</text>
<line x1="554.10" y1="222.20" x2="557.90" y2="222.20" stroke="#5c5c5c" stroke-width="1" />
<line x1="683.70" y1="222.20" x2="679.90" y2="222.20" stroke="#5c5c5c" stroke-width="1" />
<text x="551.30" y="224.70" font-family="'Liberation Sans', sans-serif" font-size="7" text-anchor="end" fill="#1c1c1c" style="stroke:#1c1c1c;stroke-width:0.18px;" >0</text>
<line x1="554.10" y1="239.17" x2="557.90" y2="239.17" stroke="#5c5c5c" stroke-width="1" />
<line x1="683.70" y1="239.17" x2="679.90" y2="239.17" stroke="#5c5c5c" stroke-width="1" />
<text x="551.30" y="241.67" font-family="'Liberation Sans', sans-serif" font-size="7" text-anchor="end" fill="#1c1c1c" style="stroke:#1c1c1c;stroke-width:0.18px;" >-0.5</text>
<line x1="554.10" y1="256.15" x2="557.90" y2="256.15" stroke="#5c5c5c" stroke-width="1" />
<line x1="683.70" y1="256.15" x2="679.90" y2="256.15" stroke="#5c5c5c" stroke-width="1" />
<text x="551.30" y="258.65" font-family="'Liberation Sans', sans-serif" font-size="7" text-anchor="end" fill="#1c1c1c" style="stroke:#1c1c1c;stroke-width:0.18px;" >-1</text>
<text x="551.30" y="275.62" font-family="'Liberation Sans', sans-serif" font-size="7" text-anchor="end" fill="#1c1c1c" style="stroke:#1c1c1c;stroke-width:0.18px;" >-1.5</text>
<text x="554.10" y="283.20" font-family="'Liberation Sans', sans-serif" font-size="7" text-anchor="middle" fill="#1c1c1c" style="stroke:#1c1c1c;stroke-width:0.18px;" >-2</text>
<line x1="586.50" y1="273.10" x2="586.50" y2="269.50" stroke="#5c5c5c" stroke-width="1" />
<line x1="586.50" y1="171.30" x2="586.50" y2="174.90" stroke="#5c5c5c" stroke-width="1" />
<text x="586.50" y="283.20" font-family="'Liberation Sans', sans-serif" font-size="7" text-anchor="middle" fill="#1c1c1c" style="stroke:#1c1c1c;stroke-width:0.18px;" >-1</text>
<line x1="618.90" y1="273.10" x2="618.90" y2="269.50" stroke="#5c5c5c" stroke-width="1" />
<line x1="618.90" y1="171.30" x2="618.90" y2="174.90" stroke="#5c5c5c" stroke-width="1" />
<text x="618.90" y="283.20" font-family="'Liberation Sans', sans-serif" font-size="7" text-anchor="middle" fill="#1c1c1c" style="stroke:#1c1c1c;stroke-width:0.18px;" >0</text>
<line x1="651.30" y1="273.10" x2="651.30" y2="269.50" stroke="#5c5c5c" stroke-width="1" />
<line x1="651.30" y1="171.30" x2="651.30" y2="174.90" stroke="#5c5c5c" stroke-width="1" />
<text x="651.30" y="283.20" font-family="'Liberation Sans', sans-serif" font-size="7" text-anchor="middle" fill="#1c1c1c" style="stroke:#1c1c1c;stroke-width:0.18px;" >1</text>
<text x="683.70" y="283.20" font-family="'Liberation Sans', sans-serif" font-size="7" text-anchor="middle" fill="#1c1c1c" style="stroke:#1c1c1c;stroke-width:0.18px;" >2</text>
<polyline points="554.10,239.16 554.64,239.16 555.18,239.16 555.72,239.16 556.26,239.16 556.80,239.16 557.34,239.16 557.88,239.16 558.42,239.16 558.96,239.15 559.50,239.15 560.04,239.15 560.58,239.15 561.12,239.15 561.66,239.15 562.20,239.14 562.74,239.14 563.28,239.14 563.82,239.14 564.36,239.13 564.90,239.13 565.44,239.13 565.98,239.13 566.52,239.12 567.06,239.12 567.60,239.11 568.14,239.11 568.68,239.11 569.22,239.10 569.76,239.10 570.30,239.09 570.84,239.09 571.38,239.08 571.92,239.07 572.46,239.07 573.00,239.06 573.54,239.05 574.08,239.04 574.62,239.03 575.16,239.02 575.70,239.01 576.24,239.00 576.78,238.99 577.32,238.98 577.86,238.96 578.40,238.95 578.94,238.93 579.48,238.92 580.02,238.90 580.56,238.88 581.10,238.86 581.64,238.84 582.18,238.81 582.72,238.79 583.26,238.76 583.80,238.74 584.34,238.71 584.88,238.67 585.42,238.64 585.96,238.60 586.50,238.56 587.04,238.52 587.58,238.48 588.12,238.43 588.66,238.38 589.20,238.33 589.74,238.27 590.28,238.21 590.82,238.15 591.36,238.08 591.90,238.01 592.44,237.93 592.98,237.85 593.52,237.76 594.06,237.66 594.60,237.56 595.14,237.46 595.68,237.35 596.22,237.23 596.76,237.10 597.30,236.97 597.84,236.83 598.38,236.68 598.92,236.52 599.46,236.35 600.00,236.17 600.54,235.99 601.08,235.79 601.62,235.58 602.16,235.36 602.70,235.13 603.24,234.88 603.78,234.63 604.32,234.36 604.86,234.08 605.40,233.78 605.94,233.47 606.48,233.15 607.02,232.81 607.56,232.46 608.10,232.09 608.64,231.71 609.18,231.32 609.72,230.91 610.26,230.48 610.80,230.04 611.34,229.59 611.88,229.13 612.42,228.65 612.96,228.16 613.50,227.66 614.04,227.15 614.58,226.62 615.12,226.09 615.66,225.55 616.20,225.00 616.74,224.45 617.28,223.89 617.82,223.33 618.36,222.77 618.90,222.20 619.44,221.63 619.98,221.07 620.52,220.51 621.06,219.95 621.60,219.40 622.14,218.85 622.68,218.31 623.22,217.78 623.76,217.25 624.30,216.74 624.84,216.24 625.38,215.75 625.92,215.27 626.46,214.81 627.00,214.36 627.54,213.92 628.08,213.49 628.62,213.08 629.16,212.69 629.70,212.31 630.24,211.94 630.78,211.59 631.32,211.25 631.86,210.93 632.40,210.62 632.94,210.32 633.48,210.04 634.02,209.77 634.56,209.52 635.10,209.27 635.64,209.04 636.18,208.82 636.72,208.61 637.26,208.41 637.80,208.23 638.34,208.05 638.88,207.88 639.42,207.72 639.96,207.57 640.50,207.43 641.04,207.30 641.58,207.17 642.12,207.05 642.66,206.94 643.20,206.84 643.74,206.74 644.28,206.64 644.82,206.55 645.36,206.47 645.90,206.39 646.44,206.32 646.98,206.25 647.52,206.19 648.06,206.13 648.60,206.07 649.14,206.02 649.68,205.97 650.22,205.92 650.76,205.88 651.30,205.84 651.84,205.80 652.38,205.76 652.92,205.73 653.46,205.69 654.00,205.66 654.54,205.64 655.08,205.61 655.62,205.59 656.16,205.56 656.70,205.54 657.24,205.52 657.78,205.50 658.32,205.48 658.86,205.47 659.40,205.45 659.94,205.44 660.48,205.42 661.02,205.41 661.56,205.40 662.10,205.39 662.64,205.38 663.18,205.37 663.72,205.36 664.26,205.35 664.80,205.34 665.34,205.33 665.88,205.33 666.42,205.32 666.96,205.31 667.50,205.31 668.04,205.30 668.58,205.30 669.12,205.29 669.66,205.29 670.20,205.29 670.74,205.28 671.28,205.28 671.82,205.27 672.36,205.27 672.90,205.27 673.44,205.27 673.98,205.26 674.52,205.26 675.06,205.26 675.60,205.26 676.14,205.25 676.68,205.25 677.22,205.25 677.76,205.25 678.30,205.25 678.84,205.25 679.38,205.24 679.92,205.24 680.46,205.24 681.00,205.24 681.54,205.24 682.08,205.24 682.62,205.24 683.16,205.24 683.70,205.24" fill="none" stroke="#16918e" stroke-width="1.8" stroke-linejoin="round" />
<polyline points="554.10,256.15 554.64,256.15 555.18,256.15 555.72,256.15 556.26,256.15 556.80,256.15 557.34,256.15 557.88,256.15 558.42,256.15 558.96,256.15 559.50,256.15 560.04,256.15 560.58,256.15 561.12,256.15 561.66,256.15 562.20,256.15 562.74,256.15 563.28,256.15 563.82,256.15 564.36,256.15 564.90,256.15 565.44,256.15 565.98,256.15 566.52,256.15 567.06,256.15 567.60,256.15 568.14,256.15 568.68,256.15 569.22,256.15 569.76,256.15 570.30,256.15 570.84,256.14 571.38,256.13 571.92,256.09 572.46,256.05 573.00,256.00 573.54,255.93 574.08,255.85 574.62,255.76 575.16,255.66 575.70,255.54 576.24,255.42 576.78,255.28 577.32,255.14 577.86,254.98 578.40,254.81 578.94,254.64 579.48,254.45 580.02,254.25 580.56,254.04 581.10,253.82 581.64,253.59 582.18,253.36 582.72,253.11 583.26,252.85 583.80,252.58 584.34,252.31 584.88,252.03 585.42,251.73 585.96,251.43 586.50,251.12 587.04,250.80 587.58,250.48 588.12,250.14 588.66,249.80 589.20,249.45 589.74,249.09 590.28,248.72 590.82,248.35 591.36,247.97 591.90,247.58 592.44,247.19 592.98,246.78 593.52,246.38 594.06,245.96 594.60,245.54 595.14,245.11 595.68,244.68 596.22,244.24 596.76,243.79 597.30,243.34 597.84,242.89 598.38,242.42 598.92,241.96 599.46,241.48 600.00,241.01 600.54,240.52 601.08,240.04 601.62,239.54 602.16,239.05 602.70,238.55 603.24,238.04 603.78,237.53 604.32,237.02 604.86,236.50 605.40,235.98 605.94,235.46 606.48,234.93 607.02,234.40 607.56,233.87 608.10,233.33 608.64,232.79 609.18,232.25 609.72,231.70 610.26,231.16 610.80,230.61 611.34,230.06 611.88,229.50 612.42,228.95 612.96,228.39 613.50,227.84 614.04,227.28 614.58,226.71 615.12,226.15 615.66,225.59 616.20,225.03 616.74,224.46 617.28,223.90 617.82,223.33 618.36,222.77 618.90,222.20 619.44,221.63 619.98,221.07 620.52,220.50 621.06,219.94 621.60,219.37 622.14,218.81 622.68,218.25 623.22,217.69 623.76,217.12 624.30,216.56 624.84,216.01 625.38,215.45 625.92,214.90 626.46,214.34 627.00,213.79 627.54,213.24 628.08,212.70 628.62,212.15 629.16,211.61 629.70,211.07 630.24,210.53 630.78,210.00 631.32,209.47 631.86,208.94 632.40,208.42 632.94,207.90 633.48,207.38 634.02,206.87 634.56,206.36 635.10,205.85 635.64,205.35 636.18,204.86 636.72,204.36 637.26,203.88 637.80,203.39 638.34,202.92 638.88,202.44 639.42,201.98 639.96,201.51 640.50,201.06 641.04,200.61 641.58,200.16 642.12,199.72 642.66,199.29 643.20,198.86 643.74,198.44 644.28,198.02 644.82,197.62 645.36,197.21 645.90,196.82 646.44,196.43 646.98,196.05 647.52,195.68 648.06,195.31 648.60,194.95 649.14,194.60 649.68,194.26 650.22,193.92 650.76,193.60 651.30,193.28 651.84,192.97 652.38,192.67 652.92,192.37 653.46,192.09 654.00,191.82 654.54,191.55 655.08,191.29 655.62,191.04 656.16,190.81 656.70,190.58 657.24,190.36 657.78,190.15 658.32,189.95 658.86,189.76 659.40,189.59 659.94,189.42 660.48,189.26 661.02,189.12 661.56,188.98 662.10,188.86 662.64,188.74 663.18,188.64 663.72,188.55 664.26,188.47 664.80,188.40 665.34,188.35 665.88,188.31 666.42,188.27 666.96,188.26 667.50,188.25 668.04,188.25 668.58,188.25 669.12,188.25 669.66,188.25 670.20,188.25 670.74,188.25 671.28,188.25 671.82,188.25 672.36,188.25 672.90,188.25 673.44,188.25 673.98,188.25 674.52,188.25 675.06,188.25 675.60,188.25 676.14,188.25 676.68,188.25 677.22,188.25 677.76,188.25 678.30,188.25 678.84,188.25 679.38,188.25 679.92,188.25 680.46,188.25 681.00,188.25 681.54,188.25 682.08,188.25 682.62,188.25 683.16,188.25 683.70,188.25" fill="none" stroke="#16918e" stroke-width="1.8" stroke-linejoin="round" />
<polyline points="554.10,239.16 554.64,239.16 555.18,239.16 555.72,239.16 556.26,239.16 556.80,239.16 557.34,239.16 557.88,239.16 558.42,239.16 558.96,239.15 559.50,239.15 560.04,239.15 560.58,239.15 561.12,239.15 561.66,239.15 562.20,239.14 562.74,239.14 563.28,239.14 563.82,239.14 564.36,239.13 564.90,239.13 565.44,239.13 565.98,239.13 566.52,239.12 567.06,239.12 567.60,239.11 568.14,239.11 568.68,239.11 569.22,239.10 569.76,239.10 570.30,239.09 570.84,239.09 571.38,239.08 571.92,239.07 572.46,239.07 573.00,239.06 573.54,239.05 574.08,239.04 574.62,239.03 575.16,239.02 575.70,239.01 576.24,239.00 576.78,238.99 577.32,238.98 577.86,238.96 578.40,238.95 578.94,238.93 579.48,238.92 580.02,238.90 580.56,238.88 581.10,238.86 581.64,238.84 582.18,238.81 582.72,238.79 583.26,238.76 583.80,238.74 584.34,238.71 584.88,238.67 585.42,238.64 585.96,238.60 586.50,238.56 587.04,238.52 587.58,238.48 588.12,238.43 588.66,238.38 589.20,238.33 589.74,238.27 590.28,238.21 590.82,238.15 591.36,238.08 591.90,238.01 592.44,237.93 592.98,237.85 593.52,237.76 594.06,237.66 594.60,237.56 595.14,237.46 595.68,237.35 596.22,237.23 596.76,237.10 597.30,236.97 597.84,236.83 598.38,236.68 598.92,236.52 599.46,236.35 600.00,236.17 600.54,235.99 601.08,235.79 601.62,235.58 602.16,235.36 602.70,235.13 603.24,234.88 603.78,234.63 604.32,234.36 604.86,234.08 605.40,233.78 605.94,233.47 606.48,233.15 607.02,232.81 607.56,232.46 608.10,232.09 608.64,231.71 609.18,231.32 609.72,230.91 610.26,230.48 610.80,230.04 611.34,229.59 611.88,229.13 612.42,228.65 612.96,228.16 613.50,227.66 614.04,227.15 614.58,226.62 615.12,226.09 615.66,225.55 616.20,225.00 616.74,224.45 617.28,223.89 617.82,223.33 618.36,222.77 618.90,222.20 619.44,221.63 619.98,221.07 620.52,220.51 621.06,219.95 621.60,219.40 622.14,218.85 622.68,218.31 623.22,217.78 623.76,217.25 624.30,216.74 624.84,216.24 625.38,215.75 625.92,215.27 626.46,214.81 627.00,214.36 627.54,213.92 628.08,213.49 628.62,213.08 629.16,212.69 629.70,212.31 630.24,211.94 630.78,211.59 631.32,211.25 631.86,210.93 632.40,210.62 632.94,210.32 633.48,210.04 634.02,209.77 634.56,209.52 635.10,209.27 635.64,209.04 636.18,208.82 636.72,208.61 637.26,208.41 637.80,208.23 638.34,208.05 638.88,207.88 639.42,207.72 639.96,207.57 640.50,207.43 641.04,207.30 641.58,207.17 642.12,207.05 642.66,206.94 643.20,206.84 643.74,206.74 644.28,206.64 644.82,206.55 645.36,206.47 645.90,206.39 646.44,206.32 646.98,206.25 647.52,206.19 648.06,206.13 648.60,206.07 649.14,206.02 649.68,205.97 650.22,205.92 650.76,205.88 651.30,205.84 651.84,205.80 652.38,205.76 652.92,205.73 653.46,205.69 654.00,205.66 654.54,205.64 655.08,205.61 655.62,205.59 656.16,205.56 656.70,205.54 657.24,205.52 657.78,205.50 658.32,205.48 658.86,205.47 659.40,205.45 659.94,205.44 660.48,205.42 661.02,205.41 661.56,205.40 662.10,205.39 662.64,205.38 663.18,205.37 663.72,205.36 664.26,205.35 664.80,205.34 665.34,205.33 665.88,205.33 666.42,205.32 666.96,205.31 667.50,205.31 668.04,205.30 668.58,205.30 669.12,205.29 669.66,205.29 670.20,205.29 670.74,205.28 671.28,205.28 671.82,205.27 672.36,205.27 672.90,205.27 673.44,205.27 673.98,205.26 674.52,205.26 675.06,205.26 675.60,205.26 676.14,205.25 676.68,205.25 677.22,205.25 677.76,205.25 678.30,205.25 678.84,205.25 679.38,205.24 679.92,205.24 680.46,205.24 681.00,205.24 681.54,205.24 682.08,205.24 682.62,205.24 683.16,205.24 683.70,205.24" fill="none" stroke="#acd8e6" stroke-width="1.7" stroke-linejoin="round" stroke-dasharray="6,5.5"/>
<polyline points="554.10,255.15 554.64,255.11 555.18,255.08 555.72,255.04 556.26,255.00 556.80,254.96 557.34,254.92 557.88,254.87 558.42,254.83 558.96,254.78 559.50,254.74 560.04,254.69 560.58,254.63 561.12,254.58 561.66,254.53 562.20,254.47 562.74,254.41 563.28,254.35 563.82,254.29 564.36,254.23 564.90,254.16 565.44,254.09 565.98,254.02 566.52,253.95 567.06,253.87 567.60,253.79 568.14,253.71 568.68,253.63 569.22,253.54 569.76,253.45 570.30,253.36 570.84,253.26 571.38,253.17 571.92,253.07 572.46,252.96 573.00,252.85 573.54,252.74 574.08,252.63 574.62,252.51 575.16,252.38 575.70,252.26 576.24,252.13 576.78,251.99 577.32,251.85 577.86,251.71 578.40,251.56 578.94,251.41 579.48,251.26 580.02,251.09 580.56,250.93 581.10,250.76 581.64,250.58 582.18,250.40 582.72,250.21 583.26,250.02 583.80,249.82 584.34,249.62 584.88,249.41 585.42,249.19 585.96,248.97 586.50,248.74 587.04,248.51 587.58,248.27 588.12,248.02 588.66,247.77 589.20,247.51 589.74,247.24 590.28,246.96 590.82,246.68 591.36,246.39 591.90,246.10 592.44,245.79 592.98,245.48 593.52,245.16 594.06,244.84 594.60,244.50 595.14,244.16 595.68,243.81 596.22,243.46 596.76,243.09 597.30,242.72 597.84,242.34 598.38,241.95 598.92,241.55 599.46,241.15 600.00,240.73 600.54,240.31 601.08,239.88 601.62,239.45 602.16,239.00 602.70,238.55 603.24,238.09 603.78,237.62 604.32,237.15 604.86,236.66 605.40,236.17 605.94,235.68 606.48,235.17 607.02,234.66 607.56,234.14 608.10,233.62 608.64,233.09 609.18,232.55 609.72,232.01 610.26,231.47 610.80,230.91 611.34,230.36 611.88,229.79 612.42,229.23 612.96,228.66 613.50,228.08 614.04,227.50 614.58,226.92 615.12,226.34 615.66,225.75 616.20,225.16 616.74,224.57 617.28,223.98 617.82,223.39 618.36,222.79 618.90,222.20 619.44,221.61 619.98,221.01 620.52,220.42 621.06,219.83 621.60,219.24 622.14,218.65 622.68,218.06 623.22,217.48 623.76,216.90 624.30,216.32 624.84,215.74 625.38,215.17 625.92,214.61 626.46,214.04 627.00,213.49 627.54,212.93 628.08,212.39 628.62,211.85 629.16,211.31 629.70,210.78 630.24,210.26 630.78,209.74 631.32,209.23 631.86,208.72 632.40,208.23 632.94,207.74 633.48,207.25 634.02,206.78 634.56,206.31 635.10,205.85 635.64,205.40 636.18,204.95 636.72,204.52 637.26,204.09 637.80,203.67 638.34,203.25 638.88,202.85 639.42,202.45 639.96,202.06 640.50,201.68 641.04,201.31 641.58,200.94 642.12,200.59 642.66,200.24 643.20,199.90 643.74,199.56 644.28,199.24 644.82,198.92 645.36,198.61 645.90,198.30 646.44,198.01 646.98,197.72 647.52,197.44 648.06,197.16 648.60,196.89 649.14,196.63 649.68,196.38 650.22,196.13 650.76,195.89 651.30,195.66 651.84,195.43 652.38,195.21 652.92,194.99 653.46,194.78 654.00,194.58 654.54,194.38 655.08,194.19 655.62,194.00 656.16,193.82 656.70,193.64 657.24,193.47 657.78,193.31 658.32,193.14 658.86,192.99 659.40,192.84 659.94,192.69 660.48,192.55 661.02,192.41 661.56,192.27 662.10,192.14 662.64,192.02 663.18,191.89 663.72,191.77 664.26,191.66 664.80,191.55 665.34,191.44 665.88,191.33 666.42,191.23 666.96,191.14 667.50,191.04 668.04,190.95 668.58,190.86 669.12,190.77 669.66,190.69 670.20,190.61 670.74,190.53 671.28,190.45 671.82,190.38 672.36,190.31 672.90,190.24 673.44,190.17 673.98,190.11 674.52,190.05 675.06,189.99 675.60,189.93 676.14,189.87 676.68,189.82 677.22,189.77 677.76,189.71 678.30,189.66 678.84,189.62 679.38,189.57 679.92,189.53 680.46,189.48 681.00,189.44 681.54,189.40 682.08,189.36 682.62,189.32 683.16,189.29 683.70,189.25" fill="none" stroke="#acd8e6" stroke-width="1.7" stroke-linejoin="round" stroke-dasharray="6,5.5"/>
<text x="569.20" y="187.90" font-family="'Liberation Sans', sans-serif" font-size="10.2" text-anchor="start" fill="#111" style="" ><tspan font-style="italic" font-family="Liberation Serif" font-size="10.8">V</tspan><tspan font-size="7.3" dy="1.6" font-family="Liberation Serif" font-weight="bold">DD</tspan><tspan dy="-1.6"> = 0.5, 1 V</tspan></text>
<line x1="618.40" y1="196.00" x2="618.40" y2="218.30" stroke="#000" stroke-width="2.6" />
<path d="M614,197.3 L618.4,188.6 L622.8,197.3 Z" stroke="#000" stroke-width="0.5" fill="#000" />
<text x="618.80" y="292.90" font-family="'Liberation Sans', sans-serif" font-size="8.3" text-anchor="middle" fill="#1c1c1c" style="" >V<tspan font-size="6.3" dy="3.6" dx="0.4">S</tspan><tspan dy="-3.6" dx="0.6"> (V)</tspan></text>
<text x="0.00" y="0.00" font-family="'Liberation Sans', sans-serif" font-size="7.8" text-anchor="middle" fill="#1c1c1c" style="" transform="translate(530.8,219.3) rotate(-90)">V<tspan font-size="6.3" dy="2.3">O</tspan><tspan dy="-2.3"> (V)</tspan></text>
</svg></body></html>
